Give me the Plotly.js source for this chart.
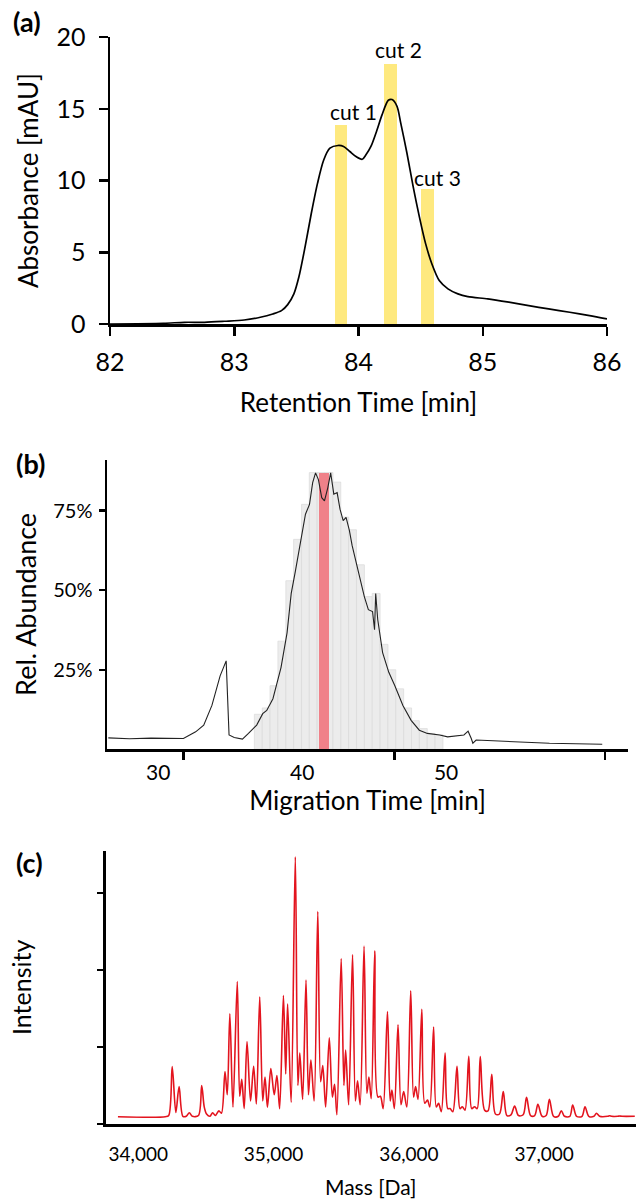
<!DOCTYPE html>
<html>
<head>
<meta charset="utf-8">
<script src="https://cdn.plot.ly/plotly-3.0.1.min.js"></script>
<style>html,body{margin:0;padding:0;background:#fff}#chart{width:638px;height:1199px}</style>
</head>
<body>
<div id="chart"></div>
<script>
// ---------- Panel (a): HPLC trace ----------
const retTime = [82.0, 82.43, 82.6, 82.76, 82.92, 83.08, 83.21, 83.31, 83.38, 83.43, 83.48, 83.52, 83.57, 83.62, 83.67, 83.72, 83.77, 83.835, 83.88, 83.93, 83.98, 84.03, 84.06, 84.1, 84.145, 84.19, 84.24, 84.27, 84.31, 84.34, 84.39, 84.44, 84.49, 84.54, 84.59, 84.65, 84.72, 84.8, 84.88, 85.04, 85.21, 85.37, 85.53, 85.7, 85.86, 86.0];
const absorbance = [0.0, 0.05, 0.12, 0.12, 0.19, 0.28, 0.47, 0.7, 0.93, 1.35, 2.1, 3.27, 5.37, 7.7, 9.8, 11.43, 12.25, 12.44, 12.37, 12.02, 11.67, 11.48, 11.79, 12.37, 13.42, 14.59, 15.59, 15.64, 15.17, 14.0, 11.9, 9.57, 7.47, 5.6, 4.2, 3.03, 2.45, 2.1, 1.91, 1.75, 1.52, 1.28, 1.05, 0.82, 0.58, 0.35];
const cutTime = [83.86, 84.257, 84.555];
const cutHeight = [13.9, 18.15, 9.4];
const cutLabels = ['cut 1', 'cut 2', 'cut 3'];
const cutLabelX = [83.96, 84.325, 84.635];
const cutLabelY = [14.8, 19.1, 10.2];
const retTicks = [82, 83, 84, 85, 86];
const absTicks = [0, 5, 10, 15, 20];

// ---------- Panel (b): CE trace ----------
const migTime = [26.53, 28.0, 29.5, 31.0, 31.75, 32.6, 33.16, 33.73, 34.3, 34.72, 34.92, 35.28, 35.85, 36.27, 36.84, 37.26, 37.54, 37.97, 38.53, 38.95, 39.24, 39.52, 39.94, 40.23, 40.51, 40.73, 40.93, 41.13, 41.36, 41.55, 41.78, 41.98, 42.2, 42.43, 42.63, 42.85, 43.05, 43.28, 43.47, 43.76, 44.04, 44.32, 44.6, 44.89, 45.03, 45.11, 45.25, 45.59, 46.02, 46.44, 47.0, 47.57, 48.14, 48.7, 49.55, 50.11, 51.24, 51.53, 51.75, 51.86, 52.09, 54.35, 57.18, 60.85];
const relAbund = [3.6, 3.3, 3.5, 3.4, 3.4, 5.5, 7.6, 13.8, 23.1, 27.8, 4.5, 3.7, 3.2, 5.0, 7.6, 11.2, 12.2, 15.9, 25.7, 36.6, 49.0, 55.8, 66.2, 73.9, 77.0, 83.8, 86.9, 84.8, 79.1, 78.1, 82.2, 86.9, 80.2, 80.7, 75.5, 71.9, 72.9, 68.8, 64.1, 58.4, 53.7, 48.0, 43.9, 43.3, 37.6, 49.0, 40.8, 30.4, 24.2, 20.0, 13.8, 9.1, 6.0, 5.0, 4.5, 3.9, 4.5, 5.7, 3.4, 1.9, 2.9, 2.4, 1.9, 1.6];
const fracCenters = [36.95, 37.50, 38.04, 38.59, 39.14, 39.68, 40.23, 40.77, 41.32, 41.87, 42.41, 42.96, 43.50, 44.05, 44.60, 45.14, 45.69, 46.23, 46.78, 47.33, 47.87, 48.42, 48.96, 49.51];
const fracHeights = [11, 13, 20, 34, 53, 66, 77, 87, 87, 87, 84, 73, 69, 58, 48, 49, 33, 25, 19, 13, 9, 6.5, 5, 4.6];
const selFracCenter = [41.53];
const selFracHeight = [86.9];
const migLabelTicks = [30, 40, 50];
const abundTicks = [25, 50, 75];
const abundTickText = ['25%', '50%', '75%'];

// ---------- Panel (c): deconvoluted mass spectrum ----------
const massDa = [33850, 34200, 34225, 34251, 34278, 34302, 34330, 34355, 34378, 34400, 34445, 34469, 34488, 34505, 34530, 34550, 34570, 34596, 34615, 34641, 34658, 34677, 34700, 34732, 34750, 34765, 34783, 34804, 34830, 34853, 34873, 34898, 34920, 34937, 34955, 34980, 35005, 35025, 35045, 35073, 35090, 35104, 35130, 35161, 35180, 35194, 35215, 35240, 35258, 35276, 35300, 35327, 35348, 35364, 35385, 35412, 35435, 35451, 35468, 35500, 35520, 35533, 35555, 35584, 35605, 35621, 35640, 35669, 35690, 35705, 35722, 35748, 35772, 35790, 35810, 35842, 35862, 35875, 35893, 35920, 35942, 35962, 35985, 36014, 36035, 36050, 36068, 36096, 36118, 36138, 36155, 36183, 36203, 36220, 36240, 36268, 36288, 36304, 36325, 36356, 36378, 36395, 36415, 36443, 36465, 36486, 36505, 36528, 36560, 36585, 36613, 36640, 36670, 36698, 36725, 36755, 36782, 36810, 36845, 36870, 36900, 36930, 36954, 36985, 37015, 37039, 37070, 37105, 37127, 37150, 37190, 37211, 37240, 37280, 37302, 37330, 37368, 37387, 37410, 37470, 37484, 37500, 37545, 37559, 37575, 37670];
const intensity = [0.095, 0.095, 0.11, 0.745, 0.15, 0.485, 0.1, 0.1, 0.147, 0.1, 0.11, 0.5, 0.22, 0.13, 0.1, 0.147, 0.11, 0.17, 0.14, 0.68, 0.38, 1.43, 0.22, 1.85, 0.36, 0.58, 0.2, 1.07, 0.3, 0.75, 0.26, 1.65, 0.3, 0.61, 0.22, 0.72, 0.38, 0.63, 0.2, 1.67, 0.65, 1.56, 0.28, 3.47, 0.5, 0.92, 0.32, 1.87, 0.38, 0.83, 0.3, 2.76, 0.55, 0.76, 0.22, 1.12, 0.35, 0.515, 0.12, 2.15, 0.5, 0.96, 0.25, 2.2, 0.3, 0.56, 0.25, 2.31, 0.4, 0.61, 0.33, 2.25, 0.35, 0.36, 0.2, 1.46, 0.3, 0.44, 0.2, 1.29, 0.25, 0.42, 0.22, 1.73, 0.35, 0.485, 0.32, 1.49, 0.27, 0.31, 0.22, 1.26, 0.22, 0.27, 0.16, 0.92, 0.2, 0.2, 0.16, 0.75, 0.2, 0.225, 0.18, 0.88, 0.2, 0.225, 0.2, 0.875, 0.18, 0.17, 0.645, 0.13, 0.13, 0.42, 0.11, 0.12, 0.234, 0.11, 0.12, 0.346, 0.11, 0.11, 0.255, 0.1, 0.11, 0.32, 0.1, 0.1, 0.173, 0.1, 0.1, 0.247, 0.1, 0.1, 0.225, 0.1, 0.1, 0.139, 0.1, 0.1, 0.108, 0.1, 0.1, 0.104, 0.1, 0.1];
const massTicks = [34000, 35000, 36000, 37000];
const intensityTicks = [0, 1, 2, 3];

// ---------- layout helpers ----------
const W = 638, H = 1199;
const fx = px => px / W;
const fy = py => 1 - py / H;
const FONT = 'Lato, "Open Sans", sans-serif';

const traces = [
  {type: 'bar', x: cutTime, y: cutHeight, width: 0.1, xaxis: 'x', yaxis: 'y',
   marker: {color: 'rgba(254,232,120,0.95)', line: {width: 0}}, name: 'cuts'},
  {type: 'scatter', mode: 'lines', x: retTime, y: absorbance, xaxis: 'x', yaxis: 'y',
   line: {color: '#000', width: 1.7, shape: 'spline', smoothing: 0.8}, name: 'UV'},

  {type: 'bar', x: fracCenters, y: fracHeights, width: 0.546, xaxis: 'x2', yaxis: 'y2',
   marker: {color: '#ececec', line: {color: '#dadada', width: 0.7}}, name: 'fractions'},
  {type: 'bar', x: selFracCenter, y: selFracHeight, width: 0.66, xaxis: 'x2', yaxis: 'y2',
   marker: {color: '#f08189', line: {width: 0}}, name: 'selected'},
  {type: 'scatter', mode: 'lines', x: migTime, y: relAbund, xaxis: 'x2', yaxis: 'y2',
   line: {color: '#222', width: 1.1}, name: 'CE'},

  {type: 'scatter', mode: 'lines', x: massDa, y: intensity, xaxis: 'x3', yaxis: 'y3',
   line: {color: '#e3141e', width: 1.6, shape: 'spline', smoothing: 0.9}, name: 'MS'}
];

const axBase = {showline: true, linecolor: '#000', showgrid: false, zeroline: false,
  tickcolor: '#000', fixedrange: true, automargin: false};

const layout = {
  width: W, height: H,
  margin: {l: 0, r: 0, t: 0, b: 0},
  paper_bgcolor: '#fff', plot_bgcolor: 'rgba(0,0,0,0)',
  showlegend: false, barmode: 'overlay', bargap: 0,
  font: {family: FONT, color: '#000'},

  xaxis: Object.assign({}, axBase, {domain: [fx(110), fx(607)], anchor: 'y', range: [82, 86],
    tickvals: retTicks, ticks: 'outside', ticklen: 9, tickwidth: 2.5, linewidth: 2.5,
    tickfont: {size: 25}, ticklabelstandoff: 5,
    title: {text: 'Retention Time [min]', font: {size: 26}, standoff: 20}}),
  yaxis: Object.assign({}, axBase, {domain: [fy(324), fy(37)], anchor: 'x', range: [0, 20],
    tickvals: absTicks, ticks: 'outside', ticklen: 9, tickwidth: 2.5, linewidth: 2.5,
    tickfont: {size: 25}, ticklabelstandoff: 8,
    title: {text: 'Absorbance [mAU]', font: {size: 26}, standoff: 11}}),

  xaxis2: Object.assign({}, axBase, {domain: [fx(107), fx(628)], anchor: 'y2', range: [26.44, 62.64],
    tickvals: migLabelTicks, ticks: '', linewidth: 3, tickfont: {size: 21}, ticklabelstandoff: 2,
    minor: {ticks: 'outside', tick0: 31.76, dtick: 14.64, ticklen: 8, tickwidth: 2.5, tickcolor: '#000', showgrid: false},
    title: {text: 'Migration Time [min]', font: {size: 26}, standoff: 10}}),
  yaxis2: Object.assign({}, axBase, {domain: [fy(749.3), fy(459.5)], anchor: 'x2', range: [0, 91.1],
    tickvals: abundTicks, ticktext: abundTickText, ticks: 'outside', ticklen: 6, tickwidth: 2.5, linewidth: 2.5,
    tickfont: {size: 20}, ticklabelstandoff: 2,
    title: {text: 'Rel. Abundance', font: {size: 27}, standoff: 9}}),

  xaxis3: Object.assign({}, axBase, {domain: [fx(105.5), fx(636)], anchor: 'y3', range: [33758, 37679],
    tickvals: massTicks, tickformat: ',', ticks: '', linewidth: 2.5, tickfont: {size: 19}, ticklabelstandoff: 12,
    title: {text: 'Mass [Da]', font: {size: 21}, standoff: 18}}),
  yaxis3: Object.assign({}, axBase, {domain: [fy(1124), fy(850.7)], anchor: 'x3', range: [0, 3.55],
    tickvals: intensityTicks, showticklabels: false, ticks: 'outside', ticklen: 6, tickwidth: 2.5, linewidth: 2.5,
    title: {text: 'Intensity', font: {size: 25}, standoff: 58}}),

  annotations: [
    {text: '<b>(a)</b>', xref: 'paper', yref: 'paper', x: fx(11), y: fy(21), xanchor: 'left', yanchor: 'middle', showarrow: false, font: {size: 27}},
    {text: '<b>(b)</b>', xref: 'paper', yref: 'paper', x: fx(14), y: fy(463), xanchor: 'left', yanchor: 'middle', showarrow: false, font: {size: 27}},
    {text: '<b>(c)</b>', xref: 'paper', yref: 'paper', x: fx(14), y: fy(862), xanchor: 'left', yanchor: 'middle', showarrow: false, font: {size: 27}}
  ].concat(cutLabels.map((t, i) => ({text: t, xref: 'x', yref: 'y', x: cutLabelX[i], y: cutLabelY[i],
    xanchor: 'center', yanchor: 'middle', showarrow: false, font: {size: 21}})))
};

Plotly.newPlot('chart', traces, layout, {staticPlot: true, displayModeBar: false});
</script>
</body>
</html>
